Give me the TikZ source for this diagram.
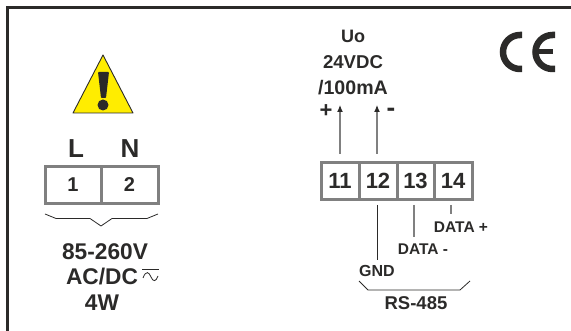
\documentclass[tikz,border=0pt]{standalone}
\usepackage{fontspec}
\setmainfont{Liberation Sans}
\usetikzlibrary{arrows.meta}
\definecolor{inkdark}{HTML}{2B2A29}
\definecolor{termgray}{HTML}{808080}
\definecolor{signyellow}{HTML}{FFED00}
\tikzset{
  lbl/.style={text=inkdark,font=\bfseries\fontsize{#1}{#1}\selectfont,inner sep=0pt},
  termbox/.style={draw=termgray,line width=3pt,fill=white,text=inkdark,inner sep=0pt,
    minimum height=37pt,font=\bfseries\fontsize{22}{22}\selectfont},
  thinline/.style={draw=inkdark,line width=0.8pt},
  wire/.style={draw=termgray,line width=1.1pt},
  uparrow/.style={wire,-{Latex[length=7pt,width=6pt,color=inkdark]},shorten <=7pt}
}
\begin{document}
\begin{tikzpicture}[x=1pt,y=-1pt]
    \useasboundingbox (0,0) rectangle (571,331);
    % frame
    \draw[inkdark,line width=3pt] (7.5,331) -- (7.5,7.5) -- (571,7.5);
    % warning sign
    \draw[inkdark,fill=signyellow,line width=0.9pt,line join=round] (103,55) -- (133,113) -- (73,113) -- cycle;
    \fill[inkdark,rounded corners=0.8pt] (98,72) -- (109,72) -- (106,98) -- (101,98) -- cycle;
    \fill[inkdark] (103,105) circle [radius=5.5];
    % mains terminals
    \node[termbox,minimum width=56pt] (t1) at (73,185) {\fontsize{20}{20}\selectfont 1};
    \node[termbox,minimum width=57pt] (t2) at (129.5,185) {\fontsize{20}{20}\selectfont 2};
    \node[lbl=26] (lblL) at (76,149) {L};
    \node[lbl=26] (lblN) at (130,149) {N};
    \draw[thinline] (45,214) -- (56,218.5) -- (90,218.5) -- (101,226) -- (112,218.5) -- (147,218.5) -- (158,214);
    \node[lbl=22.7] (volt) at (105,252) {85-260V};
    \node[lbl=22.7] (acdc) at (102,277) {AC/DC};
    \node[lbl=22.7] (watt) at (102,303) {4W};
    % ac/dc mark
    \draw[thinline] (142,269) -- (159,269);
    \draw[thinline] (143,278) .. controls (146,270) and (149,272) .. (151,277) .. controls (153,282) and (156,282) .. (158,276);
    % output terminals
    \node[termbox,minimum width=38pt] (t11) at (340,181) {11};
    \node[termbox,minimum width=38pt] (t12) at (378,181) {12};
    \node[termbox,minimum width=37pt] (t13) at (415.5,181) {13};
    \node[termbox,minimum width=38pt] (t14) at (453,181) {14};
    \node[lbl=18] (uo) at (353,36) {Uo};
    \node[lbl=18.6] (vdc) at (353,62) {24VDC};
    \node[lbl=19.6] (ma) at (353,88) {/100mA};
    \node[lbl=22] (plus) at (326,111) {+};
    \node[lbl=26] (minus) at (391,112) {-};
    \coordinate (up11) at (340,105);
    \coordinate (up12) at (377,105);
    \draw[uparrow] (t11.north) -- (up11);
    \draw[uparrow] (t12.north -| up12) -- (up12);
    % bus lines
    \node[lbl=16] (gnd) at (377,271) {GND};
    \node[lbl=15.5] (dataminus) at (423,249) {DATA -};
    \node[lbl=15.5] (dataplus) at (461,227) {DATA +};
    \coordinate (end12) at (377,260);
    \coordinate (end13) at (414,237);
    \coordinate (end14) at (451,214);
    \draw[thinline,shorten <=4pt] (t12.south -| end12) -- (end12);
    \draw[wire,shorten <=4pt] (t13.south -| end13) -- (end13);
    \draw[wire,shorten <=4pt] (t14.south -| end14) -- (end14);
    \draw[thinline] (359,281) -- (368,290) -- (460,290) -- (470,281);
    \node[lbl=18.5] (rs) at (416,303) {RS-485};
    % ce mark
    \draw[inkdark,line width=6.5pt] (522,35) -- (520,35) arc [start angle=-90,end angle=-270,radius=17] -- (522,69);
    \draw[inkdark,line width=6.5pt] (555,35) -- (552.5,35) arc [start angle=-90,end angle=-270,radius=17] -- (555,69);
    \draw[inkdark,line width=5pt] (535,52) -- (553,52);
\end{tikzpicture}
\end{document}
